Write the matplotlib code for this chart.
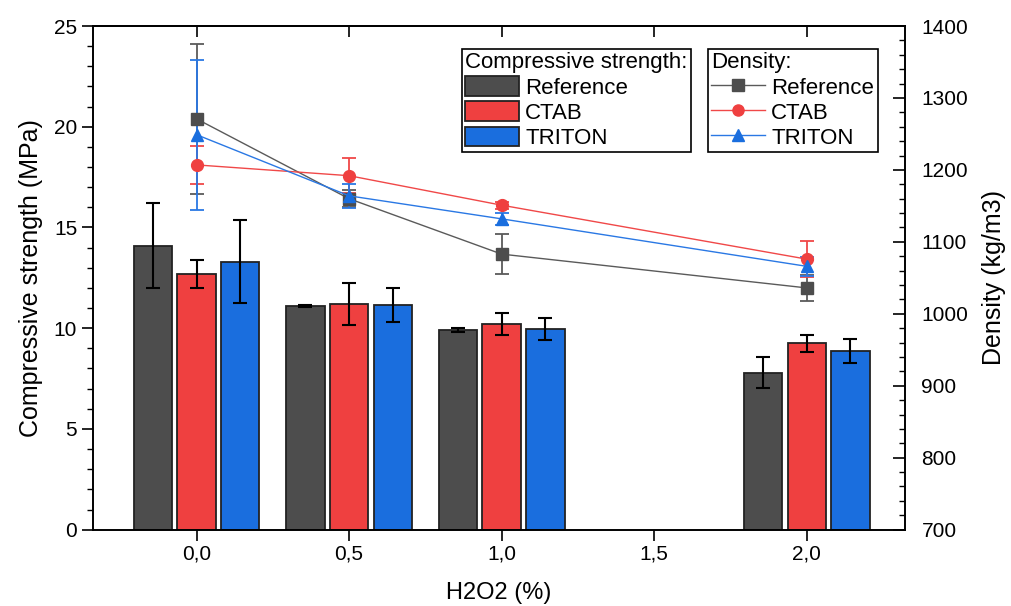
import matplotlib
matplotlib.use("Agg")
import matplotlib.pyplot as plt
import numpy as np
from matplotlib.patches import Patch
from matplotlib.lines import Line2D
from matplotlib.ticker import MultipleLocator

plt.rcParams['font.family'] = ['Liberation Sans', 'DejaVu Sans']

# H2O2 content (%)
h2o2 = [0.0, 0.5, 1.0, 2.0]
xticks = [0.0, 0.5, 1.0, 1.5, 2.0]
xticklabels = ["0,0", "0,5", "1,0", "1,5", "2,0"]

# compressive strength (MPa)
cs_ref = [14.1, 11.1, 9.9, 7.8]
cs_ref_err = [2.1, 0.05, 0.1, 0.77]
cs_ctab = [12.7, 11.2, 10.2, 9.25]
cs_ctab_err = [0.7, 1.05, 0.55, 0.42]
cs_triton = [13.3, 11.15, 9.95, 8.85]
cs_triton_err = [2.05, 0.85, 0.55, 0.6]

# density (kg/m3)
den_ref = [1271, 1160, 1083, 1036]
den_ref_err = [104, 12, 28, 18]
den_ctab = [1207, 1192, 1151, 1076]
den_ctab_err = [26, 24, 5, 25]
den_triton = [1249, 1164, 1132, 1066]
den_triton_err = [104, 17, 8, 13]

c_ref, c_ctab, c_triton = "#4d4d4d", "#ef4040", "#1a6ede"
l_ref, l_ctab, l_triton = "#5a5a5a", "#f04848", "#2a78e4"

fig = plt.figure(figsize=(10.12, 6.06), dpi=100)
ax = fig.add_axes([0.092, 0.126, 0.802, 0.831])

x = np.array(h2o2)
w = 0.126
off = 0.143
ekw = dict(ecolor="black", elinewidth=1.5, capsize=5, capthick=1.5)
ax.bar(x - off, cs_ref, w, yerr=cs_ref_err, color=c_ref, edgecolor="#222222", linewidth=1.3, error_kw=ekw)
ax.bar(x, cs_ctab, w, yerr=cs_ctab_err, color=c_ctab, edgecolor="#222222", linewidth=1.3, error_kw=ekw)
ax.bar(x + off, cs_triton, w, yerr=cs_triton_err, color=c_triton, edgecolor="#222222", linewidth=1.3, error_kw=ekw)

ax.set_xlim(-0.339, 2.321)
ax.set_ylim(0, 25)
ax.set_xticks(xticks)
ax.set_xticklabels(xticklabels)
ax.yaxis.set_major_locator(MultipleLocator(5))
ax.yaxis.set_minor_locator(MultipleLocator(1))
ax.tick_params(axis="both", which="major", direction="out", length=8, width=1.2, labelsize=15, colors="black")
ax.tick_params(axis="y", which="minor", direction="out", length=4, width=1)
ax.tick_params(axis="x", pad=3)
ax.set_xlabel("H2O2 (%)", fontsize=17, labelpad=13)
ax.set_ylabel("Compressive strength (MPa)", fontsize=18, labelpad=8)
for s in ax.spines.values():
    s.set_linewidth(1.2)

top = ax.secondary_xaxis("top")
top.set_xticks(xticks)
top.tick_params(direction="in", length=8, width=1.2, labeltop=False)
top.spines["top"].set_linewidth(1.2)

ax2 = ax.twinx()
ekw2 = dict(capsize=5, elinewidth=1.3, capthick=1.3, linewidth=1.0, markersize=8.5)
ax2.errorbar(x, den_ref, yerr=den_ref_err, color=l_ref, marker="s", mfc=c_ref, mec=c_ref, **ekw2)
ax2.errorbar(x, den_ctab, yerr=den_ctab_err, color=l_ctab, marker="o", mfc=c_ctab, mec=c_ctab, **ekw2)
ax2.errorbar(x, den_triton, yerr=den_triton_err, color=l_triton, marker="^", mfc=c_triton, mec=c_triton, **ekw2)
ax2.set_ylim(700, 1400)
ax2.yaxis.set_major_locator(MultipleLocator(100))
ax2.yaxis.set_minor_locator(MultipleLocator(20))
ax2.tick_params(axis="y", which="major", direction="in", length=9, width=1.2, labelsize=15, pad=12)
ax2.tick_params(axis="y", which="minor", direction="in", length=4, width=1)
ax2.set_ylabel("Density (kg/m3)", fontsize=18, labelpad=10)
for s in ax2.spines.values():
    s.set_linewidth(1.2)

leg_kw = dict(loc="upper left", fontsize=16, title_fontsize=16, alignment="left",
              fancybox=False, framealpha=1, edgecolor="black", borderpad=0.15,
              handlelength=2.4, handleheight=1.0, labelspacing=0.12,
              handletextpad=0.3, borderaxespad=0)

bar_handles = [Patch(facecolor=c, edgecolor="#222222", linewidth=1.3) for c in (c_ref, c_ctab, c_triton)]
leg1 = fig.legend(bar_handles, ["Reference", "CTAB", "TRITON"], title="Compressive strength:",
                  bbox_to_anchor=(0.4565, 0.919), **leg_kw)
leg1.get_frame().set_linewidth(1.2)

line_handles = [
    Line2D([], [], color=l_ref, marker="s", mfc=c_ref, mec=c_ref, lw=1, markersize=8),
    Line2D([], [], color=l_ctab, marker="o", mfc=c_ctab, mec=c_ctab, lw=1, markersize=8),
    Line2D([], [], color=l_triton, marker="^", mfc=c_triton, mec=c_triton, lw=1, markersize=8),
]
leg2 = fig.legend(line_handles, ["Reference", "CTAB", "TRITON"], title="Density:",
                  bbox_to_anchor=(0.6996, 0.919), **leg_kw)
leg2.get_frame().set_linewidth(1.2)

fig.savefig("out.png", dpi=100)
